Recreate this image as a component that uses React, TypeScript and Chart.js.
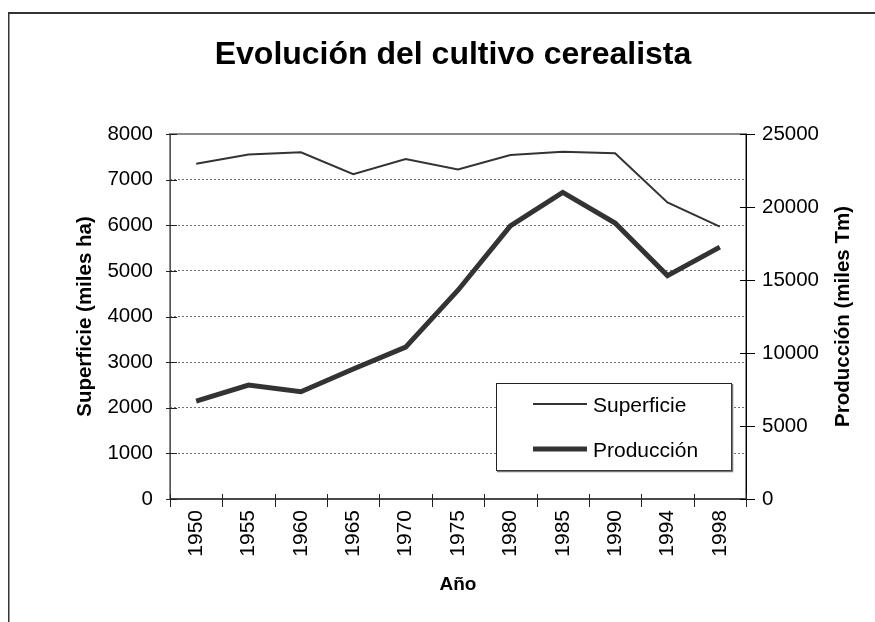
import React, { useEffect, useRef } from 'react';
import { Chart, registerables } from 'chart.js';

Chart.register(...registerables);

const years = ['1950', '1955', '1960', '1965', '1970', '1975', '1980', '1985', '1990', '1994', '1998'];
const superficie = [7350, 7550, 7600, 7120, 7450, 7220, 7540, 7610, 7580, 6500, 5970];
const produccion = [6700, 7800, 7350, 8900, 10400, 14300, 18700, 21000, 18900, 15300, 17250];

const titleText = 'Evolución del cultivo cerealista';
const leftAxisTitle = 'Superficie (miles ha)';
const rightAxisTitle = 'Producción (miles Tm)';
const xAxisTitle = 'Año';
const seriesNames = ['Superficie', 'Producción'];

const FONT = "'Liberation Sans', Arial, sans-serif";
const LINE_COLOR = '#333333';

const decor = {
  id: 'excelDecor',
  beforeDraw(chart: any) {
    const { ctx, width, height } = chart;
    ctx.save();
    ctx.fillStyle = '#ffffff';
    ctx.fillRect(0, 0, width, height);
    ctx.fillStyle = '#333333';
    ctx.fillRect(8, 12, width - 8, 2);
    ctx.fillRect(8, 12, 1.5, height - 12);
    ctx.restore();
  },
  beforeDatasetsDraw(chart: any) {
    const { ctx, chartArea: ca, scales } = chart;
    const { left, right, top, bottom } = ca;
    ctx.save();
    const seg = (x1: number, y1: number, x2: number, y2: number) => {
      ctx.beginPath();
      ctx.moveTo(x1, y1);
      ctx.lineTo(x2, y2);
      ctx.stroke();
    };
    // plot area border
    ctx.strokeStyle = '#8a8a8a';
    ctx.lineWidth = 2;
    ctx.strokeRect(left, top, right - left, bottom - top);
    // left axis
    ctx.strokeStyle = '#555555';
    ctx.lineWidth = 1;
    seg(left + 0.5, top, left + 0.5, bottom);
    // bottom axis
    ctx.strokeStyle = '#333333';
    ctx.lineWidth = 1.5;
    seg(left, bottom, right, bottom);
    // right axis
    ctx.strokeStyle = '#000000';
    ctx.lineWidth = 1;
    seg(right + 0.5, top, right + 0.5, bottom);
    // left ticks
    ctx.strokeStyle = '#222222';
    const ys = scales.y;
    ys.ticks.forEach((t: any) => {
      const y = Math.round(ys.getPixelForValue(t.value)) + 0.5;
      seg(left - 4, y, left + 7, y);
    });
    // right ticks
    ctx.strokeStyle = '#000000';
    const y1 = scales.y1;
    y1.ticks.forEach((t: any) => {
      const y = Math.round(y1.getPixelForValue(t.value)) + 0.5;
      seg(right - 6, y, right + 9, y);
    });
    // x ticks (between categories)
    ctx.strokeStyle = '#222222';
    const xs = scales.x;
    const step = (xs.right - xs.left) / years.length;
    for (let i = 0; i <= years.length; i++) {
      const x = Math.round(xs.left + i * step) + 0.5;
      seg(x, bottom - 5, x, bottom + 8);
    }
    ctx.restore();
  },
  afterDatasetsDraw(chart: any) {
    const { ctx, chartArea: ca } = chart;
    ctx.save();
    // legend box
    const lx = ca.left + 326;
    const ly = ca.top + 249;
    const lw = 235;
    const lh = 87;
    ctx.fillStyle = '#ffffff';
    ctx.fillRect(lx, ly, lw, lh);
    ctx.strokeStyle = '#222222';
    ctx.lineWidth = 1;
    ctx.strokeRect(lx + 0.5, ly + 0.5, lw, lh);
    ctx.strokeStyle = '#777777';
    ctx.lineWidth = 1.5;
    ctx.beginPath();
    ctx.moveTo(lx + lw + 1.5, ly + 1);
    ctx.lineTo(lx + lw + 1.5, ly + lh + 1.5);
    ctx.lineTo(lx + 1, ly + lh + 1.5);
    ctx.stroke();
    const widths = [2, 5];
    const rows = [ly + 21, ly + 66];
    seriesNames.forEach((name, i) => {
      ctx.strokeStyle = LINE_COLOR;
      ctx.lineWidth = widths[i];
      ctx.beginPath();
      ctx.moveTo(lx + 37, rows[i]);
      ctx.lineTo(lx + 91, rows[i]);
      ctx.stroke();
      ctx.fillStyle = '#000000';
      ctx.font = `21px ${FONT}`;
      ctx.textBaseline = 'middle';
      ctx.textAlign = 'left';
      ctx.fillText(name, lx + 97, rows[i] + 2);
    });
    // right axis title, reading bottom to top
    ctx.translate(843, (ca.top + ca.bottom) / 2);
    ctx.rotate(-Math.PI / 2);
    ctx.font = `bold 20.5px ${FONT}`;
    ctx.fillStyle = '#000000';
    ctx.textAlign = 'center';
    ctx.textBaseline = 'middle';
    ctx.fillText(rightAxisTitle, 0, 0);
    ctx.restore();
  },
};

export default function App() {
  const ref = useRef<HTMLCanvasElement | null>(null);
  useEffect(() => {
    if (!ref.current) return;
    const chart = new Chart(ref.current, {
      type: 'line',
      data: {
        labels: years,
        datasets: [
          {
            label: seriesNames[0],
            data: superficie,
            yAxisID: 'y',
            borderColor: LINE_COLOR,
            borderWidth: 2,
            pointRadius: 0,
            tension: 0,
            fill: false,
          },
          {
            label: seriesNames[1],
            data: produccion,
            yAxisID: 'y1',
            borderColor: LINE_COLOR,
            borderWidth: 5,
            pointRadius: 0,
            tension: 0,
            fill: false,
          },
        ],
      },
      options: {
        animation: false,
        responsive: false,
        devicePixelRatio: 1,
        layout: { padding: { left: 31, right: 0, top: 0, bottom: 0 } },
        plugins: {
          legend: { display: false },
          tooltip: { enabled: false },
          title: {
            display: true,
            text: titleText,
            color: '#000000',
            font: { family: FONT, size: 32, weight: 'bold', lineHeight: 1.2 },
            padding: { top: 36, bottom: 59.6 },
          },
        },
        scales: {
          x: {
            type: 'category',
            offset: true,
            grid: { display: false, drawTicks: false },
            border: { display: false },
            ticks: {
              color: '#000000',
              font: { family: FONT, size: 21 },
              minRotation: 90,
              maxRotation: 90,
              autoSkip: false,
              padding: 11,
            },
            title: {
              display: true,
              text: xAxisTitle,
              color: '#000000',
              font: { family: FONT, size: 19, weight: 'bold', lineHeight: 1.2 },
              padding: { top: 0, bottom: 25.6 },
            },
            afterFit: (s: any) => {
              s.height = 123;
            },
          },
          y: {
            position: 'left',
            min: 0,
            max: 8000,
            ticks: {
              stepSize: 1000,
              color: '#000000',
              font: { family: FONT, size: 20.5 },
              padding: 17,
              callback: (v: any) => String(v),
            },
            grid: {
              color: '#707070',
              lineWidth: 1,
              drawTicks: false,
            },
            border: { display: false, dash: [2, 2] },
            title: {
              display: true,
              text: leftAxisTitle,
              color: '#000000',
              font: { family: FONT, size: 20.5, weight: 'bold', lineHeight: 1.2 },
              padding: { top: 41.7, bottom: 0 },
            },
            afterFit: (s: any) => {
              s.width = 139;
            },
          },
          y1: {
            position: 'right',
            min: 0,
            max: 25000,
            ticks: {
              stepSize: 5000,
              color: '#000000',
              font: { family: FONT, size: 20.5 },
              padding: 16,
              callback: (v: any) => String(v),
            },
            grid: { display: false, drawTicks: false },
            border: { display: false },
            afterFit: (s: any) => {
              s.width = 129;
            },
          },
        },
      },
      plugins: [decor],
    } as any);
    return () => chart.destroy();
  }, []);
  return (
    <div style={{ position: 'fixed', left: 0, top: 0, width: 875, height: 622 }}>
      <canvas ref={ref} width={875} height={622} />
    </div>
  );
}
